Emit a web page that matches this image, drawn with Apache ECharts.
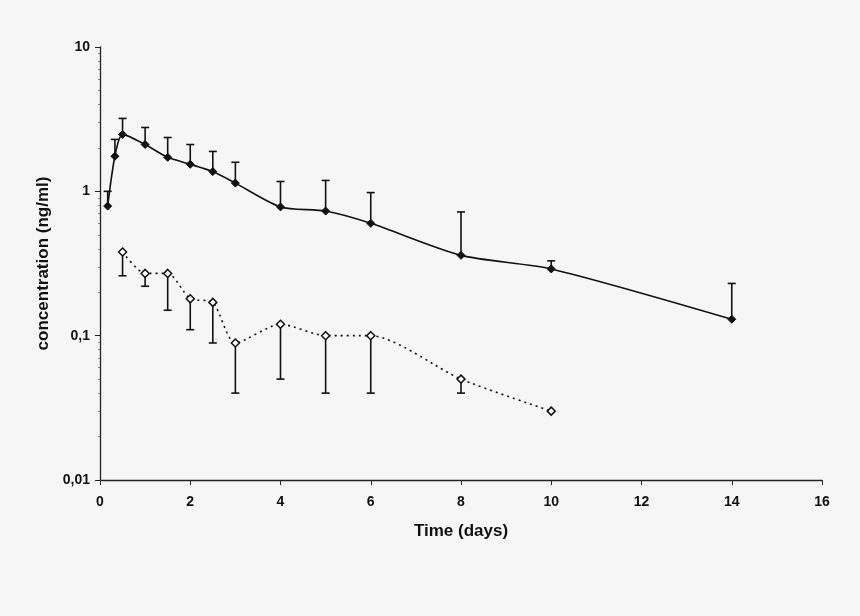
<!DOCTYPE html>
<html><head><meta charset="utf-8">
<script src="https://cdn.jsdelivr.net/npm/echarts@6/dist/echarts.min.js"></script>
<style>html,body{margin:0;padding:0;background:#f6f6f6}#c{width:860px;height:616px}</style>
</head><body><div id="c"></div>
<script>
const filledTime  = [0.17, 0.33, 0.5, 1, 1.5, 2, 2.5, 3, 4, 5, 6, 8, 10, 14];
const filledMean  = [0.79, 1.75, 2.48, 2.11, 1.72, 1.54, 1.37, 1.14, 0.78, 0.73, 0.60, 0.36, 0.29, 0.13];
const filledUpper = [1.0, 2.29, 3.2, 2.77, 2.36, 2.11, 1.89, 1.59, 1.17, 1.19, 0.98, 0.72, 0.33, 0.23];
const openTime  = [0.5, 1, 1.5, 2, 2.5, 3, 4, 5, 6, 8, 10];
const openMean  = [0.38, 0.27, 0.27, 0.18, 0.17, 0.089, 0.12, 0.10, 0.10, 0.05, 0.03];
const openLower = [0.26, 0.22, 0.15, 0.11, 0.089, 0.04, 0.05, 0.04, 0.04, 0.04, null];
const xTicks = [0, 2, 4, 6, 8, 10, 12, 14, 16];
const yTickLabels = {10: '10', 1: '1', 0.1: '0,1', 0.01: '0,01'};

const font = 'Liberation Sans, Arial, sans-serif';
function errItem(params, api) {
  const x = api.value(0), y = api.value(1), e = api.value(2);
  if (e == null || isNaN(e)) return null;
  const p0 = api.coord([x, y]), p1 = api.coord([x, e]);
  return {type: 'group', children: [
    {type: 'line', shape: {x1: p0[0], y1: p0[1], x2: p1[0], y2: p1[1]}, style: {stroke: '#111', lineWidth: 1.6}},
    {type: 'line', shape: {x1: p1[0] - 4, y1: p1[1], x2: p1[0] + 4, y2: p1[1]}, style: {stroke: '#111', lineWidth: 1.6}}
  ]};
}
const chart = echarts.init(document.getElementById('c'));
chart.setOption({
  backgroundColor: '#f6f6f6',
  animation: false,
  grid: {left: 100, right: 38, top: 47, bottom: 136},
  xAxis: {
    type: 'value', min: xTicks[0], max: xTicks[xTicks.length - 1], interval: 2,
    name: 'Time (days)', nameLocation: 'middle', nameGap: 43,
    nameTextStyle: {fontFamily: font, fontWeight: 'bold', fontSize: 17, color: '#111'},
    axisLine: {lineStyle: {color: '#222', width: 1.3}},
    axisTick: {length: 5, lineStyle: {color: '#222'}},
    axisLabel: {fontFamily: font, fontWeight: 'bold', fontSize: 14, color: '#111', margin: 15},
    splitLine: {show: false}
  },
  yAxis: {
    type: 'log', logBase: 10, min: 0.01, max: 10,
    name: 'concentration (ng/ml)', nameLocation: 'middle', nameGap: 45,
    nameTextStyle: {fontFamily: font, fontWeight: 'bold', fontSize: 17, color: '#111'},
    axisLine: {show: true, lineStyle: {color: '#222', width: 1.3}},
    axisTick: {show: true, length: 5, lineStyle: {color: '#222'}},
    minorTick: {show: true, splitNumber: 9, length: 2, lineStyle: {color: '#888'}},
    axisLabel: {fontFamily: font, fontWeight: 'bold', fontSize: 14, color: '#111', margin: 10,
      formatter: v => yTickLabels[v] !== undefined ? yTickLabels[v] : (v >= 1 ? String(v) : String(v).replace('.', ','))},
    splitLine: {show: false}
  },
  series: [
    {type: 'custom', renderItem: errItem, z: 1,
     data: filledTime.map((t, i) => [t, filledMean[i], filledUpper[i]])},
    {type: 'custom', renderItem: errItem, z: 1,
     data: openTime.map((t, i) => [t, openMean[i], openLower[i]])},
    {type: 'line', z: 3, smooth: 0.25, symbol: 'diamond', symbolSize: 8,
     lineStyle: {color: '#111', width: 1.6},
     itemStyle: {color: '#111', borderColor: '#111', borderWidth: 1},
     data: filledTime.map((t, i) => [t, filledMean[i]])},
    {type: 'line', z: 3, smooth: 0.25, symbol: 'diamond', symbolSize: 8,
     lineStyle: {color: '#111', width: 1.6, type: [2, 4]},
     itemStyle: {color: '#ffffff', borderColor: '#111', borderWidth: 1.5},
     data: openTime.map((t, i) => [t, openMean[i]])}
  ]
});
</script></body></html>
